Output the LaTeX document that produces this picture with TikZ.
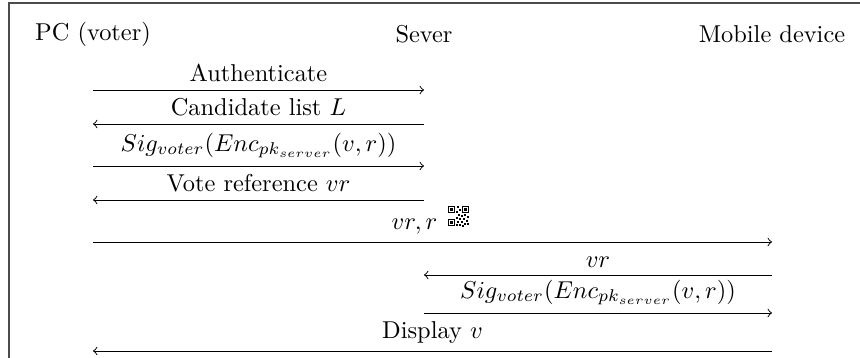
\documentclass[tikz,border=0pt]{standalone}
\begin{document}
\begin{tikzpicture}[x=0.41pt,y=-0.41pt,
  msg/.style={->},
  lbl/.style={above, inner sep=3pt},
  actor/.style={inner sep=0pt},
  frameline/.style={black!70, line width=0.45pt}]
\useasboundingbox (0,0) rectangle (860,358);
\draw[frameline] (9,358) -- (9,3) -- (860,3);
% actors
\node[actor] (pc) at (93,34) {PC (voter)};
\node[actor] (sv) at (424,34) {Sever};
\node[actor] (mb) at (772,34) {Mobile device};
% message end points
\coordinate (pc1) at (93,90);  \coordinate (sv1) at (424,90);
\coordinate (pc2) at (93,124); \coordinate (sv2) at (424,124);
\coordinate (pc3) at (93,166); \coordinate (sv3) at (424,166);
\coordinate (pc4) at (93,200); \coordinate (sv4) at (424,200);
\coordinate (pc5) at (93,242); \coordinate (mb5) at (772,242);
\coordinate (sv6) at (424,275); \coordinate (mb6) at (772,275);
\coordinate (sv7) at (424,313); \coordinate (mb7) at (772,313);
\coordinate (pc8) at (93,351); \coordinate (mb8) at (772,351);
% messages
\draw[msg] (pc1) -- node[lbl] {Authenticate} (sv1);
\draw[msg] (sv2) -- node[lbl] {Candidate list $L$} (pc2);
\draw[msg] (pc3) -- node[lbl] {$Sig_{voter}(Enc_{pk_{server}}(v,r))$} (sv3);
\draw[msg] (sv4) -- node[lbl] {Vote reference $vr$} (pc4);
\draw[msg] (pc5) -- node[lbl, pos=0.4735] (vrr) {$vr, r$} (mb5);
\draw[msg] (mb6) -- node[lbl] {$vr$} (sv6);
\draw[msg] (sv7) -- node[lbl] {$Sig_{voter}(Enc_{pk_{server}}(v,r))$} (mb7);
\draw[msg] (mb8) -- node[lbl] {Display $v$} (pc8);
% QR code icon
\begin{scope}[shift={(448,206)}]
  \foreach \qx/\qy in {0/0, 14/0, 0/13} {
    \fill[black] (\qx,\qy) rectangle ++(7,7);
    \fill[white] (\qx+1.2,\qy+1.2) rectangle ++(4.6,4.6);
    \fill[black] (\qx+2.4,\qy+2.4) rectangle ++(2.2,2.2);
  }
  \foreach \qx/\qy in {9/0, 11/3, 8/5, 10/8, 13/9, 16/8, 19/10, 8/11, 11/12, 15/12, 18/14, 9/15, 13/15, 16/17, 19/17, 8/18, 11/18, 14/19} {
    \fill[black] (\qx,\qy) rectangle ++(2,2);
  }
\end{scope}
\end{tikzpicture}
\end{document}
